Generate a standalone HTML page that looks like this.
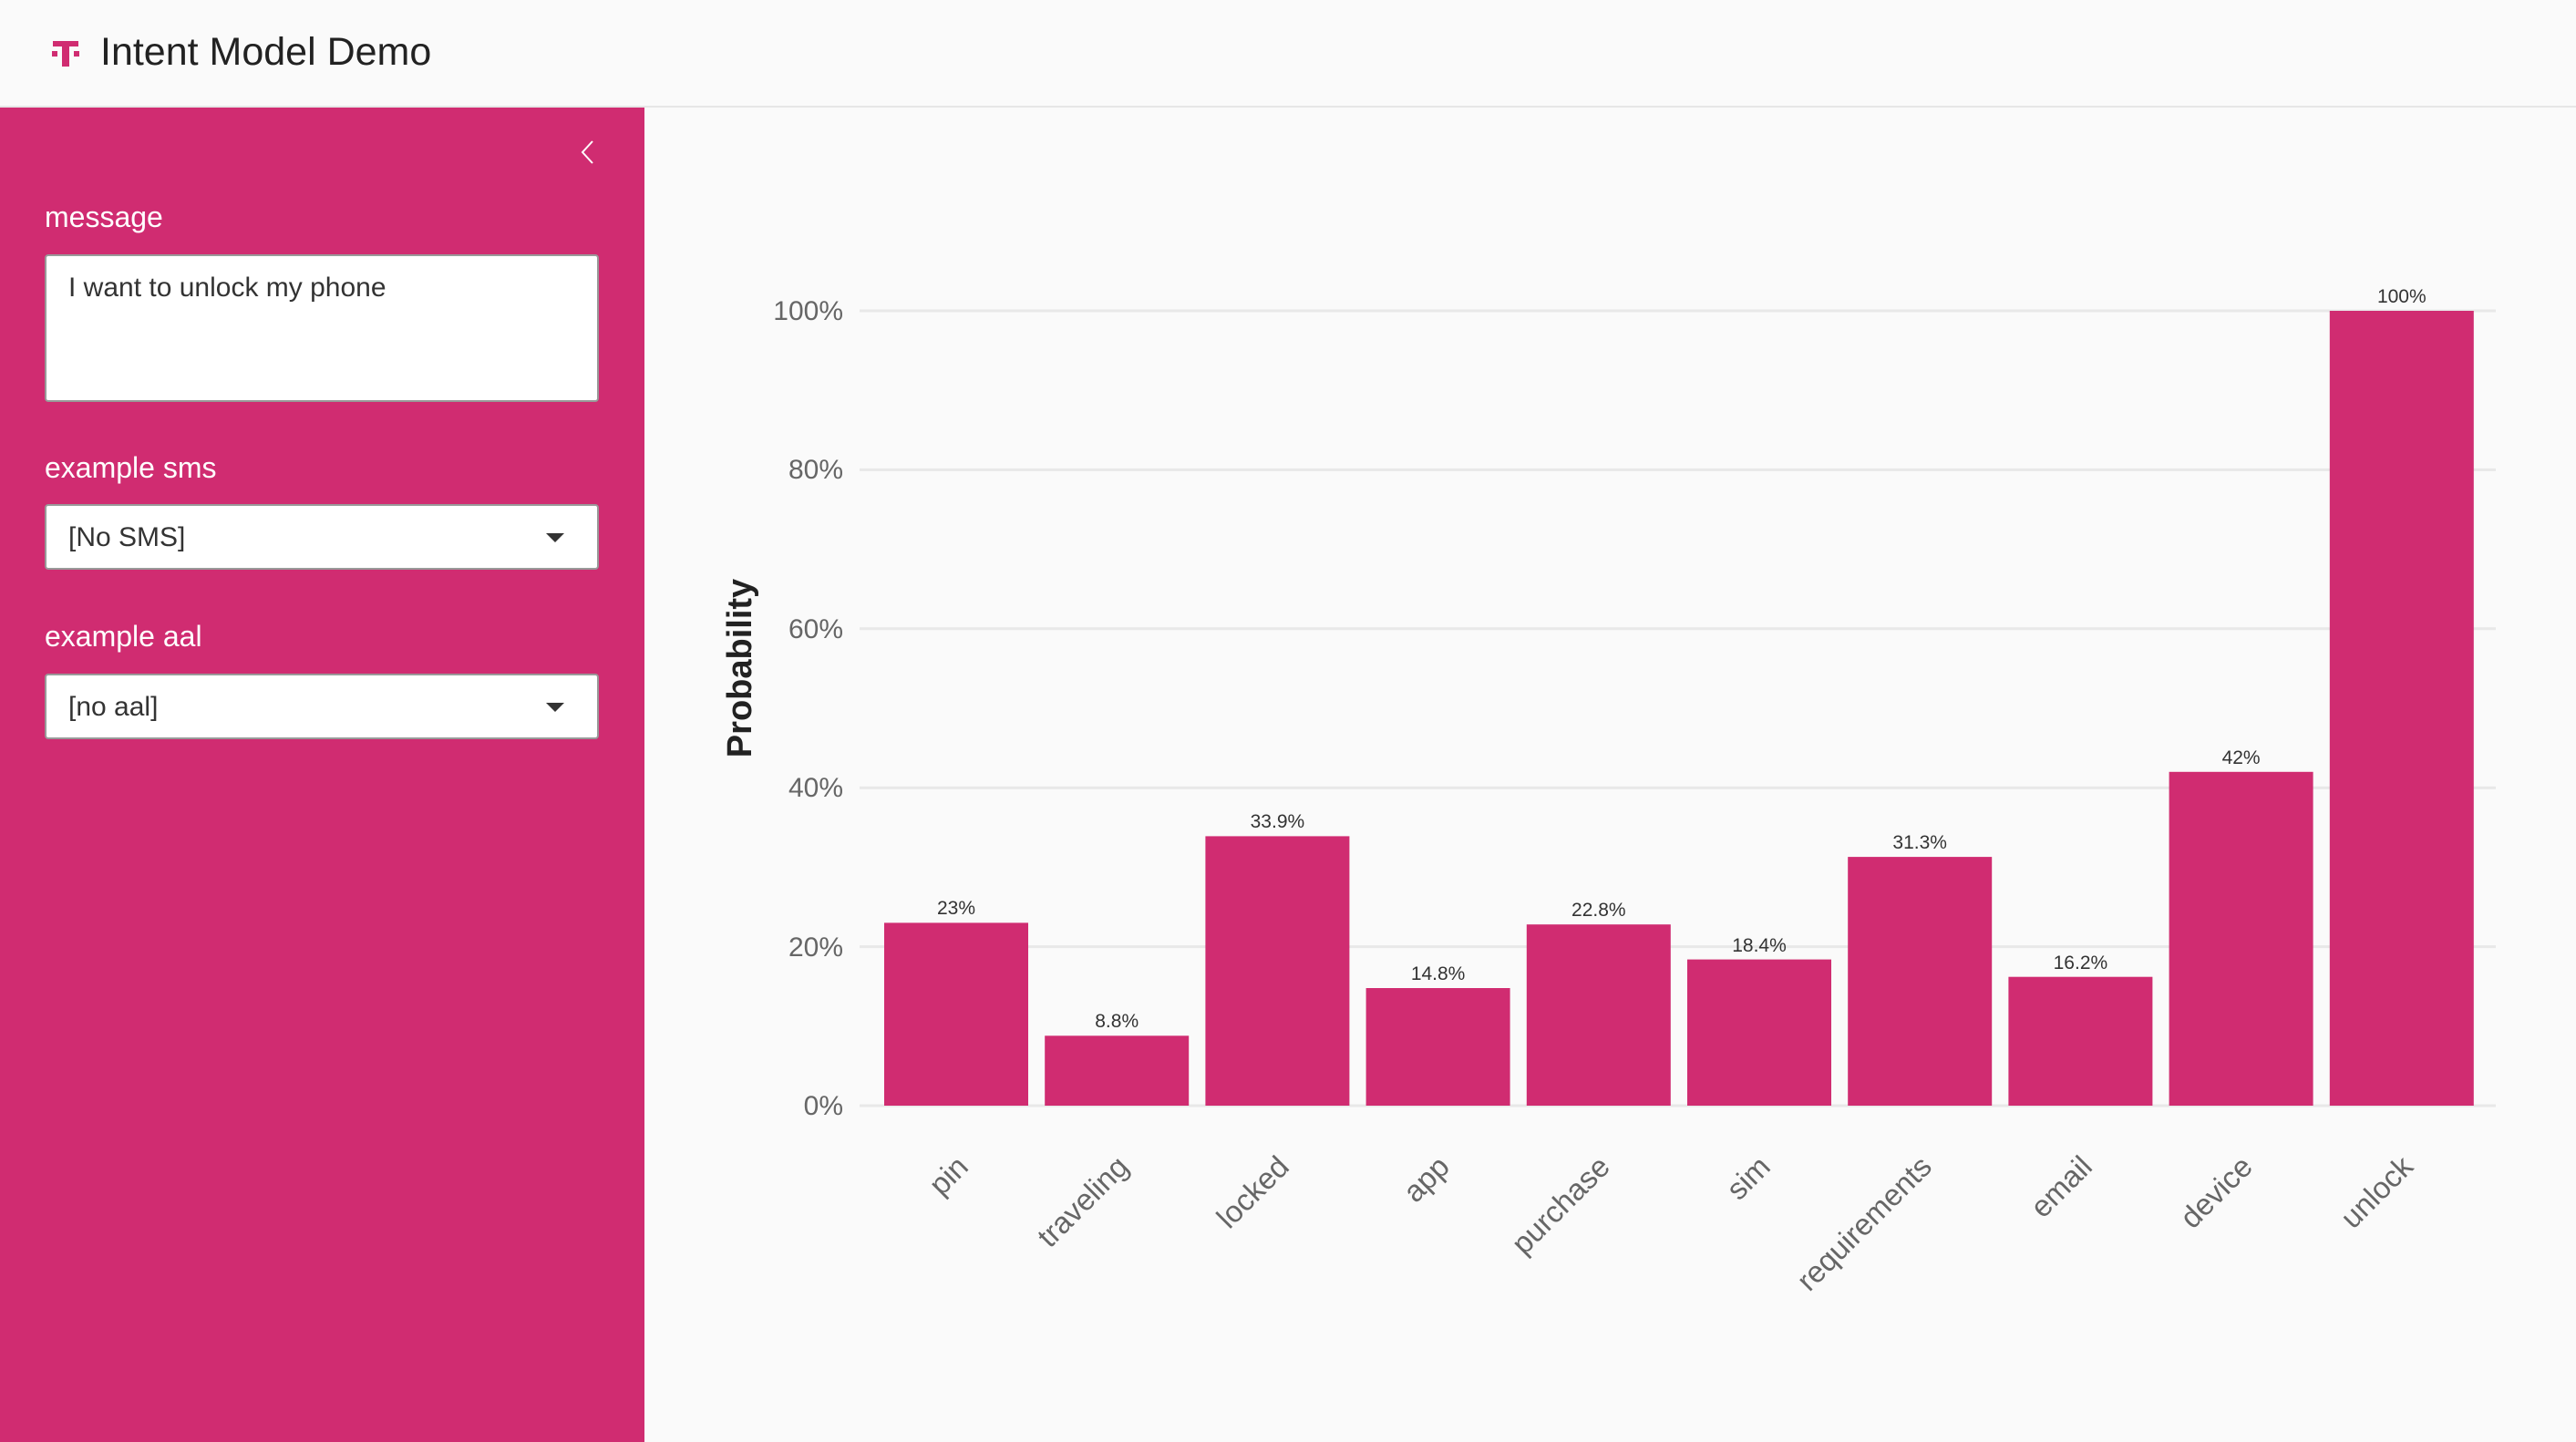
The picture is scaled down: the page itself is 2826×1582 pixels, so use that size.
<!DOCTYPE html>
<html><head><meta charset="utf-8"><style>
html,body{margin:0;padding:0;width:2826px;height:1582px;overflow:hidden;background:#fafafa;font-family:"Liberation Sans","DejaVu Sans",sans-serif;}
.header{position:absolute;left:0;top:0;width:2826px;height:116px;background:#fafafa;border-bottom:2px solid #e6e6e6;}
.title{position:absolute;left:110px;top:33px;font-size:43px;color:#222;}
.side{position:absolute;left:0;top:118px;width:707px;height:1464px;background:#d02c71;}
.lbl{position:absolute;left:49px;color:#fff;font-size:32px;}
.box{position:absolute;left:49px;width:608px;background:#fff;border:2px solid #999;border-radius:4px;box-sizing:border-box;}
.box span{position:absolute;left:24px;font-size:30px;color:#333;}
.arrow{position:absolute;right:36px;top:30px;width:0;height:0;border-left:10px solid transparent;border-right:10px solid transparent;border-top:10px solid #333;}
</style></head><body>
<div class="header">
 <svg style="position:absolute;left:56px;top:43px" width="32" height="32" viewBox="0 0 32 32">
  <rect x="2" y="2" width="28" height="6" fill="#d02c71"/>
  <rect x="12" y="2" width="8" height="28" fill="#d02c71"/>
  <rect x="1" y="13" width="6" height="6" fill="#d02c71"/>
  <rect x="25" y="13" width="6" height="6" fill="#d02c71"/>
 </svg>
 <div class="title">Intent Model Demo</div>
</div>
<div class="side">
 <svg style="position:absolute;left:634px;top:34px" width="20" height="30"><polyline points="16,3 5,15 16,27" fill="none" stroke="#fff" stroke-width="2"/></svg>
 <div class="lbl" style="top:102px">message</div>
 <div class="box" style="top:161px;height:162px"><span style="top:18px">I want to unlock my phone</span></div>
 <div class="lbl" style="top:377px">example sms</div>
 <div class="box" style="top:435px;height:72px"><span style="top:18px">[No SMS]</span><div class="arrow"></div></div>
 <div class="lbl" style="top:562px">example aal</div>
 <div class="box" style="top:621px;height:72px"><span style="top:18px">[no aal]</span><div class="arrow"></div></div>
</div>
<svg style="position:absolute;left:0;top:0" width="2826" height="1582" font-family="Liberation Sans, DejaVu Sans, sans-serif">
 <g stroke="#e8e8e8" stroke-width="3">
  <line x1="943" x2="2738" y1="341" y2="341"/>
  <line x1="943" x2="2738" y1="515.4" y2="515.4"/>
  <line x1="943" x2="2738" y1="689.8" y2="689.8"/>
  <line x1="943" x2="2738" y1="864.2" y2="864.2"/>
  <line x1="943" x2="2738" y1="1038.6" y2="1038.6"/>
  <line x1="943" x2="2738" y1="1213" y2="1213"/>
 </g>
 <g fill="#666" font-size="30" text-anchor="end">
  <text x="925" y="351">100%</text>
  <text x="925" y="525">80%</text>
  <text x="925" y="700">60%</text>
  <text x="925" y="874">40%</text>
  <text x="925" y="1049">20%</text>
  <text x="925" y="1223">0%</text>
 </g>
 <text transform="translate(824,733) rotate(-90)" text-anchor="middle" font-size="38" font-weight="bold" fill="#222">Probability</text>
 <g fill="#d02c71">
  <rect x="970" y="1012.4" width="158" height="200.6"/>
  <rect x="1146.2" y="1136.3" width="158" height="76.7"/>
  <rect x="1322.4" y="917.4" width="158" height="295.6"/>
  <rect x="1498.6" y="1084" width="158" height="129"/>
  <rect x="1674.8" y="1014.2" width="158" height="198.8"/>
  <rect x="1851" y="1052.6" width="158" height="160.4"/>
  <rect x="2027.2" y="940.1" width="158" height="272.9"/>
  <rect x="2203.4" y="1071.7" width="158" height="141.3"/>
  <rect x="2379.6" y="846.8" width="158" height="366.2"/>
  <rect x="2555.8" y="341" width="158" height="872"/>
 </g>
 <g fill="#333" font-size="21" text-anchor="middle">
  <text x="1049" y="1003">23%</text>
  <text x="1225.2" y="1127">8.8%</text>
  <text x="1401.4" y="908">33.9%</text>
  <text x="1577.6" y="1075">14.8%</text>
  <text x="1753.8" y="1005">22.8%</text>
  <text x="1930" y="1044">18.4%</text>
  <text x="2106.2" y="931">31.3%</text>
  <text x="2282.4" y="1063">16.2%</text>
  <text x="2458.6" y="838">42%</text>
  <text x="2634.8" y="332">100%</text>
 </g>
 <g fill="#666" font-size="33" text-anchor="end">
  <text transform="translate(1064,1282) rotate(-45)">pin</text>
  <text transform="translate(1240,1282) rotate(-45)">traveling</text>
  <text transform="translate(1416,1282) rotate(-45)">locked</text>
  <text transform="translate(1592,1282) rotate(-45)">app</text>
  <text transform="translate(1768,1282) rotate(-45)">purchase</text>
  <text transform="translate(1944,1282) rotate(-45)">sim</text>
  <text transform="translate(2121,1282) rotate(-45)">requirements</text>
  <text transform="translate(2297,1282) rotate(-45)">email</text>
  <text transform="translate(2473,1282) rotate(-45)">device</text>
  <text transform="translate(2649,1282) rotate(-45)">unlock</text>
 </g>
</svg>
</body></html>
